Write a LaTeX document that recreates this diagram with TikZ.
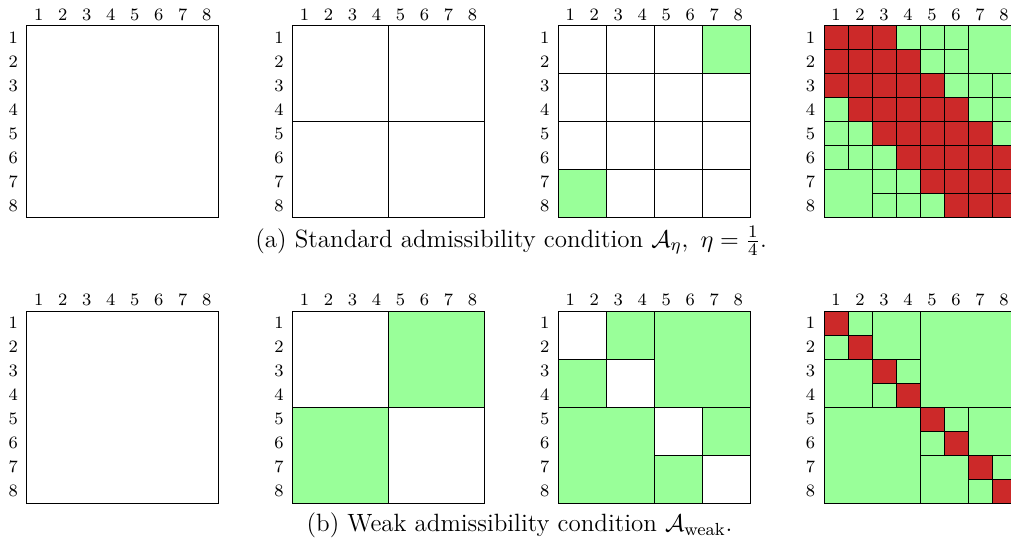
\documentclass[tikz,border=0pt]{standalone}
\usepackage{amsmath}
\usepackage{tikz}
\usetikzlibrary{positioning}

\definecolor{admgreen}{RGB}{153,255,153}
\definecolor{nearred}{RGB}{204,41,41}

% one square block of the hierarchical matrix: [fill]{col}{row}{size}
\newcommand{\hblock}[4][white]{\draw[blk, fill=#1] (#2-1,#3-1) rectangle ++(#4,#4);}
% index numbers above and left of a matrix
\newcommand{\idxlabels}[1]{%
  \foreach \i in {1,...,8} {
    \node[idx] (#1c\i) at (\i-0.5,-0.46) {\i};
    \node[idx] (#1r\i) at (-0.56,\i-0.5) {\i};
  }}

\begin{document}
\begin{tikzpicture}[
  x=10.9pt, y=-10.9pt,
  blk/.style={draw=black, line width=0.45pt},
  idx/.style={font=\fontsize{7.9}{9}\selectfont, inner sep=0pt},
  captxt/.style={font=\fontsize{11.35}{13}\selectfont, inner sep=0pt}
]
\useasboundingbox (0,0) rectangle (42.125,22.708);

% ---- (a) standard admissibility ----
\begin{scope}[shift={(1.11,1.083)}]
  \idxlabels{aa}
  \hblock{1}{1}{8}
\end{scope}
\begin{scope}[shift={(12.185,1.083)}]
  \idxlabels{ab}
  \foreach \r in {1,5} \foreach \c in {1,5} {\hblock{\c}{\r}{4}}
\end{scope}
\begin{scope}[shift={(23.26,1.083)}]
  \idxlabels{ac}
  \foreach \r in {1,3,5,7} \foreach \c in {1,3,5,7} {\hblock{\c}{\r}{2}}
  \hblock[admgreen]{7}{1}{2}
  \hblock[admgreen]{1}{7}{2}
\end{scope}
\begin{scope}[shift={(34.335,1.083)}]
  \idxlabels{ad}
  \foreach \r in {1,...,8} \foreach \c in {1,...,8} {
    \pgfmathtruncatemacro{\dd}{abs(\r-\c)}
    \ifnum\dd<3 \hblock[nearred]{\c}{\r}{1}\else\hblock[admgreen]{\c}{\r}{1}\fi
  }
  \hblock[admgreen]{7}{1}{2}
  \hblock[admgreen]{1}{7}{2}
\end{scope}
\node[captxt] (capa) at (21.3,10.04)
  {(a) Standard admissibility condition $\mathcal{A}_\eta,\ \eta = \frac{1}{4}$.};

% ---- (b) weak admissibility ----
\begin{scope}[shift={(1.11,12.96)}]
  \idxlabels{ba}
  \hblock{1}{1}{8}
\end{scope}
\begin{scope}[shift={(12.185,12.96)}]
  \idxlabels{bb}
  \hblock{1}{1}{4}
  \hblock{5}{5}{4}
  \hblock[admgreen]{5}{1}{4}
  \hblock[admgreen]{1}{5}{4}
\end{scope}
\begin{scope}[shift={(23.26,12.96)}]
  \idxlabels{bc}
  \foreach \d in {1,3,5,7} {\hblock{\d}{\d}{2}}
  \foreach \c/\r in {3/1,1/3,7/5,5/7} {\hblock[admgreen]{\c}{\r}{2}}
  \hblock[admgreen]{5}{1}{4}
  \hblock[admgreen]{1}{5}{4}
\end{scope}
\begin{scope}[shift={(34.335,12.96)}]
  \idxlabels{bd}
  \hblock[admgreen]{5}{1}{4}
  \hblock[admgreen]{1}{5}{4}
  \foreach \c/\r in {3/1,1/3,7/5,5/7} {\hblock[admgreen]{\c}{\r}{2}}
  \foreach \c/\r in {2/1,1/2,4/3,3/4,6/5,5/6,8/7,7/8} {\hblock[admgreen]{\c}{\r}{1}}
  \foreach \d in {1,...,8} {\hblock[nearred]{\d}{\d}{1}}
\end{scope}
\node[captxt] (capb) at (21.65,21.875)
  {(b) Weak admissibility condition $\mathcal{A}_{\text{weak}}$.};
\end{tikzpicture}
\end{document}
